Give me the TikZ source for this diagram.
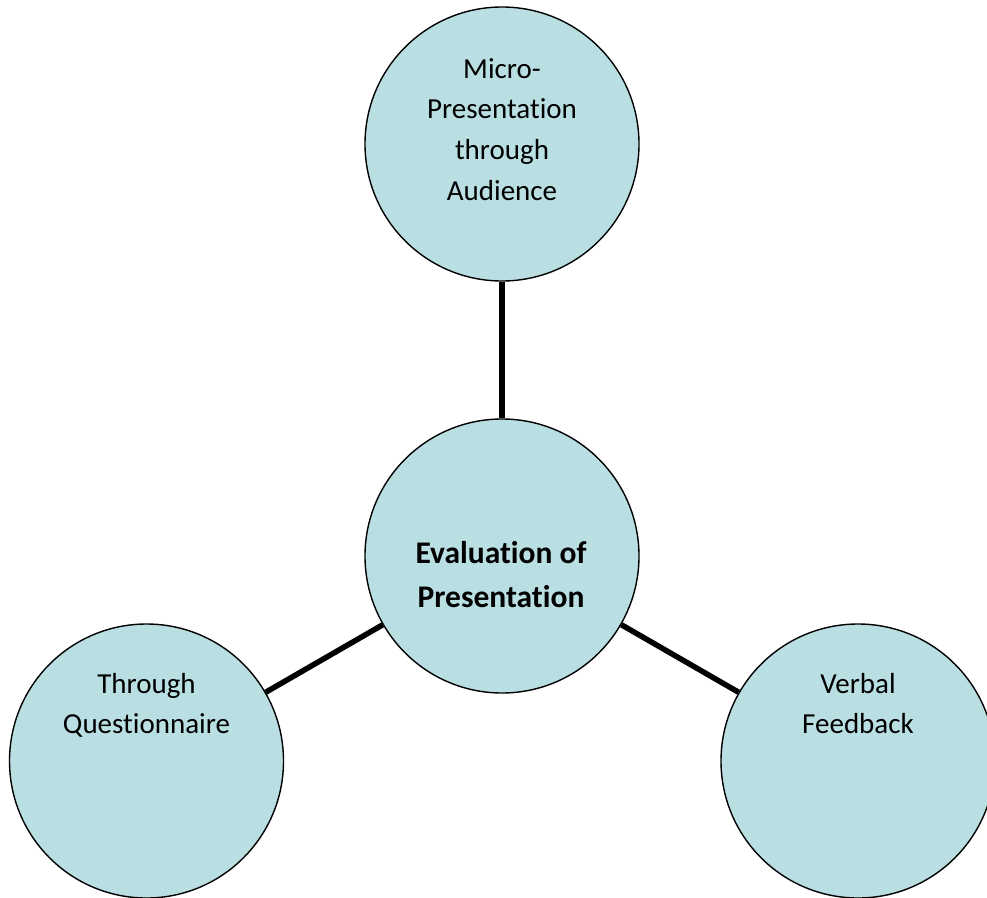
\documentclass[tikz,border=0pt]{standalone}
\usepackage{fontspec}
\setmainfont{Carlito}[Ligatures={NoCommon}]
\definecolor{circfill}{RGB}{186,223,227}
\tikzset{
  bubble/.style={circle, draw=black, fill=circfill, line width=1.4pt, minimum size=274pt, inner sep=0pt},
  link/.style={line width=5.5pt, black},
  lbl/.style={anchor=base, inner sep=0pt, font=\fontsize{29}{40.7}\selectfont},
  lblbold/.style={anchor=base, inner sep=0pt, font=\fontsize{31.5}{44}\selectfont\bfseries}
}
\begin{document}
\begin{tikzpicture}[x=1pt,y=-1pt]
\useasboundingbox (0,0) rectangle (987,897);
\begin{scope}
\clip (0,0) rectangle (987,897);
\node[bubble] (top) at (502,144) {};
\node[bubble] (mid) at (502,556) {};
\node[bubble] (left) at (146.5,761) {};
\node[bubble] (right) at (858,761) {};
\draw[link] (mid) -- (top);
\draw[link] (mid) -- (left);
\draw[link] (mid) -- (right);
\node[lbl] (ttop) at (502,78) {\begin{tabular}[t]{@{}c@{}}Micro-\\Presentation\\through\\Audience\end{tabular}};
\node[lblbold] (tmid) at (501,563) {\begin{tabular}[t]{@{}c@{}}Evaluation of\\Presentation\end{tabular}};
\node[lbl] (tleft) at (146.5,693) {\begin{tabular}[t]{@{}c@{}}Through\\Questionnaire\end{tabular}};
\node[lbl] (tright) at (858,693) {\begin{tabular}[t]{@{}c@{}}Verbal\\Feedback\end{tabular}};
\end{scope}
\end{tikzpicture}
\end{document}
